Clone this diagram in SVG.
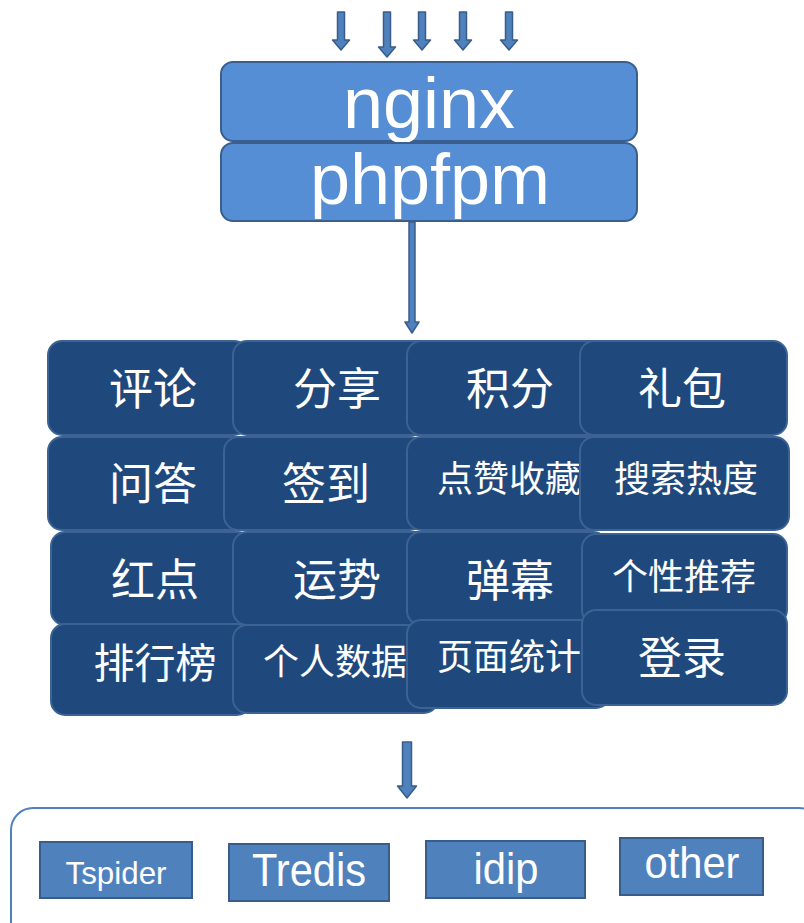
<svg xmlns="http://www.w3.org/2000/svg" width="804" height="923" viewBox="0 0 804 923">
<style>
.arrow{fill:#4f81bd;stroke:#385d8a;stroke-width:1.5;stroke-linejoin:round}
.top{fill:#558ed5;stroke:#3a5f8f;stroke-width:2}
.toptxt{font-family:"Liberation Sans",Arial,sans-serif;font-size:72px;fill:#fff;text-anchor:middle}
.cell{fill:#1f497d;stroke:#3c6393;stroke-width:2}
.ct{font-family:"Noto Sans CJK SC",sans-serif;fill:#fff;text-anchor:middle}
.big{font-size:44px}
.sm{font-size:36px}
.cont{fill:#fff;stroke:#4f81bd;stroke-width:2}
.db{fill:#4f81bd;stroke:#385d8a;stroke-width:2}
.dbt{font-family:"Liberation Sans",Arial,sans-serif;fill:#fff;text-anchor:middle}
</style>
<g id="connectors">
<path class="arrow" d="M337.5,12 h7 v28 h5 l-8.5,10 l-8.5,-10 h5 z"/>
<path class="arrow" d="M383.5,12 h7 v35 h5 l-8.5,10 l-8.5,-10 h5 z"/>
<path class="arrow" d="M418.5,12 h7 v28 h5 l-8.5,10 l-8.5,-10 h5 z"/>
<path class="arrow" d="M459.5,12 h7 v28 h5 l-8.5,10 l-8.5,-10 h5 z"/>
<path class="arrow" d="M505.5,12 h7 v28 h5 l-8.5,10 l-8.5,-10 h5 z"/>
<path class="arrow" d="M409,222 h6 v100 h4 l-7,11 l-7,-11 h4 z"/>
<path class="arrow" d="M402.5,742 h9 v44 h5 l-9.5,12 l-9.5,-12 h5 z"/>
</g>
<g id="nginx">
<rect class="top" x="221" y="62" width="416" height="79" rx="12"/>
<text class="toptxt" x="429" y="128">nginx</text>
</g>
<g id="phpfpm">
<rect class="top" x="221" y="143" width="416" height="78" rx="12"/>
<text class="toptxt" x="430" y="204">phpfpm</text>
</g>
<g id="n-pinglun"><rect class="cell" x="48" y="341" width="200" height="94" rx="14"/><text class="ct big" x="153" y="405">评论</text></g>
<g id="n-fenxiang"><rect class="cell" x="233" y="341" width="200" height="94" rx="14"/><text class="ct big" x="337" y="405">分享</text></g>
<g id="n-jifen"><rect class="cell" x="407" y="341" width="200" height="94" rx="14"/><text class="ct big" x="510" y="405">积分</text></g>
<g id="n-libao"><rect class="cell" x="580" y="341" width="207" height="94" rx="14"/><text class="ct big" x="682" y="405">礼包</text></g>
<g id="n-wenda"><rect class="cell" x="48" y="437" width="200" height="93" rx="14"/><text class="ct big" x="153" y="500">问答</text></g>
<g id="n-qiandao"><rect class="cell" x="224" y="437" width="200" height="93" rx="14"/><text class="ct big" x="326" y="500">签到</text></g>
<g id="n-dianzan"><rect class="cell" x="407" y="437" width="200" height="93" rx="14"/><text class="ct sm" x="509" y="492">点赞收藏</text></g>
<g id="n-sousuo"><rect class="cell" x="580" y="437" width="209" height="93" rx="14"/><text class="ct sm" x="686" y="492">搜索热度</text></g>
<g id="n-hongdian"><rect class="cell" x="51" y="532" width="200" height="93" rx="14"/><text class="ct big" x="155" y="596">红点</text></g>
<g id="n-yunshi"><rect class="cell" x="233" y="532" width="200" height="93" rx="14"/><text class="ct big" x="337" y="596">运势</text></g>
<g id="n-danmu"><rect class="cell" x="407" y="532" width="200" height="93" rx="14"/><text class="ct big" x="510" y="597">弹幕</text></g>
<g id="n-gexing"><rect class="cell" x="582" y="534" width="205" height="90" rx="14"/><text class="ct sm" x="684" y="590">个性推荐</text></g>
<g id="n-paihang"><rect class="cell" x="51" y="624" width="200" height="91" rx="14"/><text class="ct" style="font-size:41px" x="155" y="678">排行榜</text></g>
<g id="n-geren"><rect class="cell" x="233" y="625" width="205" height="88" rx="14"/><text class="ct sm" x="335" y="675">个人数据</text></g>
<g id="n-yemian"><rect class="cell" x="407" y="620" width="203" height="88" rx="14"/><text class="ct sm" x="509" y="670">页面统计</text></g>
<g id="n-denglu"><rect class="cell" x="582" y="610" width="205" height="95" rx="14"/><text class="ct big" x="682" y="674">登录</text></g>
<g id="storage">
<rect class="cont" x="11" y="808" width="810" height="140" rx="22"/>
</g>
<g id="n-tspider"><rect class="db" x="40" y="842" width="152" height="56"/><text class="dbt" x="116" y="884" style="font-size:32px" textLength="101" lengthAdjust="spacingAndGlyphs">Tspider</text></g>
<g id="n-tredis"><rect class="db" x="229" y="844" width="160" height="57"/><text class="dbt" x="309" y="886" style="font-size:46px" textLength="114" lengthAdjust="spacingAndGlyphs">Tredis</text></g>
<g id="n-idip"><rect class="db" x="426" y="841" width="159" height="57"/><text class="dbt" x="506" y="884" style="font-size:44px" textLength="65" lengthAdjust="spacingAndGlyphs">idip</text></g>
<g id="n-other"><rect class="db" x="620" y="838" width="143" height="57"/><text class="dbt" x="692" y="878" style="font-size:44px" textLength="95" lengthAdjust="spacingAndGlyphs">other</text></g>
</svg>
